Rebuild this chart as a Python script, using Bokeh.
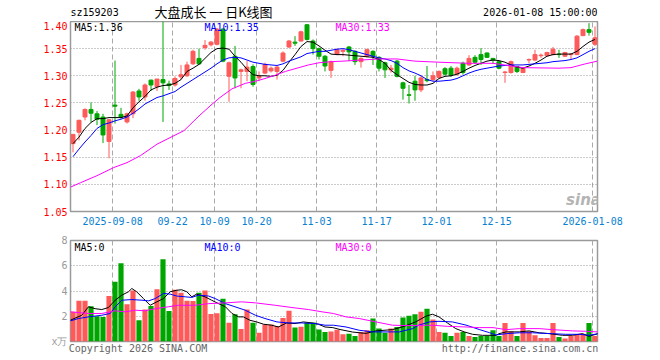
import numpy as np
from bokeh.plotting import figure
from bokeh.models import Range1d, FixedTicker, PrintfTickFormatter, Label
from bokeh.layouts import column
from bokeh.embed import file_html
from bokeh.resources import INLINE
from bokeh.core.properties import value

# ---------------- data ----------------
tick_idx = [7, 17, 24, 31, 41, 51, 61, 71, 87]
tick_labels = ["2025-09-08", "09-22", "10-09", "10-20", "11-03", "11-17", "12-01", "12-15", "2026-01-08"]

opens = [1.175,1.196,1.224,1.238,1.230,1.224,1.179,1.246,1.229,1.215,
         1.230,1.272,1.261,1.292,1.280,1.293,1.285,1.283,1.298,1.300,
         1.322,1.332,1.352,1.357,1.358,1.386,1.299,1.336,1.308,1.308,
         1.317,1.296,1.305,1.309,1.308,1.327,1.353,1.362,1.364,1.394,
         1.364,1.350,1.336,1.310,1.340,1.345,1.353,1.345,1.326,1.336,
         1.345,1.334,1.324,1.311,1.327,1.287,1.265,1.290,1.274,1.293,
         1.293,1.297,1.313,1.314,1.303,1.323,1.320,1.334,1.339,1.342,
         1.332,1.326,1.306,1.306,1.317,1.306,1.329,1.329,1.337,1.337,
         1.339,1.340,1.336,1.339,1.339,1.374,1.385,1.358]
closes = [1.192,1.218,1.238,1.231,1.220,1.191,1.219,1.244,1.224,1.230,
          1.270,1.261,1.283,1.283,1.294,1.287,1.282,1.295,1.302,1.320,
          1.345,1.322,1.356,1.362,1.386,1.327,1.324,1.296,1.311,1.316,
          1.284,1.299,1.321,1.314,1.316,1.342,1.364,1.360,1.381,1.367,
          1.350,1.336,1.318,1.326,1.348,1.347,1.344,1.326,1.332,1.348,
          1.336,1.314,1.311,1.314,1.299,1.277,1.264,1.274,1.296,1.291,
          1.300,1.308,1.303,1.301,1.314,1.306,1.332,1.325,1.330,1.334,
          1.329,1.314,1.307,1.326,1.308,1.314,1.330,1.339,1.338,1.343,
          1.349,1.339,1.343,1.340,1.373,1.385,1.380,1.370]
highs = [1.193,1.219,1.240,1.251,1.235,1.230,1.220,1.328,1.241,1.232,
         1.272,1.276,1.286,1.293,1.294,1.400,1.291,1.299,1.320,1.326,
         1.348,1.350,1.366,1.364,1.388,1.388,1.326,1.355,1.313,1.327,
         1.321,1.308,1.324,1.317,1.318,1.345,1.366,1.373,1.383,1.395,
         1.367,1.352,1.338,1.328,1.350,1.349,1.355,1.347,1.334,1.350,
         1.347,1.336,1.326,1.320,1.329,1.289,1.283,1.300,1.300,1.318,
         1.308,1.310,1.316,1.318,1.317,1.326,1.338,1.338,1.351,1.343,
         1.333,1.327,1.309,1.328,1.318,1.315,1.332,1.348,1.341,1.344,
         1.353,1.348,1.344,1.342,1.375,1.387,1.397,1.391]
lows = [1.159,1.181,1.218,1.215,1.209,1.176,1.148,1.212,1.221,1.212,
        1.222,1.254,1.254,1.272,1.272,1.215,1.274,1.280,1.293,1.298,
        1.320,1.320,1.348,1.354,1.356,1.325,1.252,1.277,1.277,1.290,
        1.280,1.290,1.303,1.306,1.293,1.325,1.351,1.355,1.363,1.365,
        1.339,1.330,1.308,1.296,1.338,1.336,1.327,1.320,1.315,1.334,
        1.320,1.308,1.296,1.306,1.297,1.256,1.249,1.254,1.270,1.288,
        1.290,1.295,1.300,1.298,1.300,1.302,1.318,1.322,1.320,1.333,
        1.322,1.312,1.287,1.304,1.305,1.305,1.323,1.327,1.333,1.336,
        1.338,1.333,1.335,1.329,1.338,1.373,1.374,1.355]
volumes = [2.35,3.22,3.22,2.80,2.00,1.95,3.60,4.74,6.20,2.96,
           4.03,1.69,2.53,2.82,4.13,6.51,2.42,4.10,3.86,3.22,
           3.20,3.86,4.03,2.17,2.24,3.38,1.48,2.16,1.00,2.54,
           1.48,0.70,1.34,1.34,1.22,1.87,2.43,1.10,1.16,1.48,
           1.50,0.95,0.76,0.80,0.94,0.57,0.62,0.44,0.76,0.89,
           1.82,1.02,0.69,1.02,1.15,1.90,2.03,2.16,2.35,2.59,
           1.74,0.76,0.69,0.44,0.69,0.76,0.44,0.36,0.44,0.44,
           0.89,0.44,1.47,0.81,0.44,1.47,0.81,0.49,0.28,0.28,
           1.47,0.36,0.23,0.44,0.57,0.62,1.47,0.44]

ma5 = [1.175,1.187,1.203,1.214,1.221,1.221,1.223,1.223,1.223,1.226,
       1.241,1.252,1.262,1.274,1.279,1.282,1.283,1.286,1.293,1.308,
       1.314,1.321,1.332,1.343,1.350,1.351,1.349,1.336,1.325,1.312,
       1.302,1.300,1.300,1.299,1.301,1.310,1.325,1.339,1.354,1.363,
       1.362,1.355,1.347,1.340,1.339,1.339,1.338,1.337,1.336,1.335,
       1.334,1.330,1.323,1.310,1.302,1.295,1.288,1.284,1.283,1.283,
       1.286,1.295,1.299,1.300,1.303,1.308,1.314,1.319,1.323,1.327,
       1.329,1.328,1.325,1.320,1.316,1.314,1.318,1.323,1.329,1.336,
       1.339,1.340,1.340,1.340,1.345,1.354,1.362,1.367]
ma10 = [1.151,1.165,1.178,1.190,1.203,1.210,1.213,1.217,1.220,1.224,
        1.231,1.239,1.248,1.254,1.260,1.263,1.267,1.271,1.279,1.286,
        1.293,1.300,1.307,1.314,1.322,1.329,1.333,1.334,1.333,1.329,
        1.325,1.323,1.321,1.320,1.319,1.322,1.327,1.331,1.335,1.341,
        1.343,1.345,1.345,1.347,1.349,1.350,1.348,1.345,1.342,1.339,
        1.336,1.333,1.331,1.328,1.323,1.315,1.309,1.305,1.300,1.293,
        1.290,1.290,1.291,1.292,1.295,1.300,1.305,1.309,1.312,1.314,
        1.316,1.318,1.319,1.320,1.320,1.320,1.321,1.322,1.323,1.324,
        1.326,1.327,1.328,1.330,1.333,1.339,1.345,1.350]
ma30_x = [-0.4,1.25,4,6.8,9,11.25,14,18.5,21,23,24.5,26.5,28.7,30.4,32,33.7,35.4,37,
          39.25,41,43,45,48,51,54,57,61,66,70,72.5,75,81,83,85.4,87.4]
ma30_y = [1.095,1.103,1.116,1.131,1.140,1.153,1.174,1.199,1.226,1.246,1.260,1.276,1.286,1.290,
          1.295,1.301,1.308,1.313,1.320,1.324,1.326,1.327,1.329,1.331,1.331,1.327,1.325,1.323,
          1.323,1.319,1.315,1.314,1.315,1.322,1.327]

vma5_x = [-0.47,1.47,2.58,3.69,4.8,5.9,7.03,8.14,9.25,9.8,10.6,11.75,12.86,13.97,15.08,16.2,
          17.3,18.1,18.97,19.8,20.6,22.0,23.1,24.25,25.4,26.5,27.6,28.4,29.5,30.6,31.75,33.1,
          34.25,35.6,37.0,38.4,39.8,40.9,42.0,43.3,44.5,46.6,48.8,50.5,53.25,55.2,57.1,58.8,
          59.9,61.0,62.4,63.8,65.2,66.6,68.25,70.5,71.0,72.2,74.4,76.0,77.7,79.4,81.6,83.25,
          84.9,86.0,87.5]
vma5_y = [1.68,2.08,2.75,2.60,2.53,2.69,3.27,3.67,3.94,4.20,3.94,3.40,2.87,3.14,3.40,3.94,
          4.06,4.10,3.94,3.54,3.75,3.54,3.27,3.00,2.75,2.22,1.95,1.95,1.68,1.55,1.37,1.29,
          1.15,1.47,1.42,1.55,1.47,1.37,1.15,1.10,0.95,0.75,0.64,0.84,0.94,1.20,1.55,2.00,
          2.16,1.95,1.47,1.02,0.76,0.57,0.49,0.49,0.62,0.76,0.76,0.84,0.69,0.62,0.49,0.49,
          0.62,0.41,0.62]
vma10_x = [-0.47,0.92,2.58,4.8,6.2,7.03,8.14,9.8,11.5,12.6,13.7,15.1,16.2,17.3,18.7,19.8,
           20.9,22.6,23.7,25.4,27.0,28.7,30.4,32.0,34.0,35.9,38.1,40.4,42.0,43.4,45.5,47.7,
           49.9,54.4,56.6,57.6,59.4,61.0,63.25,65.5,67.7,69.4,70.5,72.2,74.4,76.6,79.9,82.1,
           84.4,86.0,87.5]
vma10_y = [1.63,1.82,1.95,2.08,2.22,2.75,3.27,3.32,3.27,3.22,3.40,3.81,3.75,3.60,3.54,3.49,
           3.67,3.60,3.40,3.00,2.75,2.48,2.08,1.82,1.55,1.47,1.47,1.42,1.29,1.29,1.15,0.89,
           0.76,0.76,1.02,1.29,1.55,1.60,1.55,1.30,0.95,0.70,0.52,0.62,0.69,0.69,0.62,0.57,
           0.57,0.49,0.62]
vma30_x = [-0.47,2.58,4.8,7.03,8.7,10.4,12.0,13.7,15.9,17.6,20.4,22.6,25.4,28.1,30.4,33.7,
           36.5,39.25,41.5,43.4,45.5,47.7,50.5,53.25,55.5,59.9,62.4,65.5,67.7,70.0,72.2,74.4,
           77.7,79.9,83.25,85.4,87.5]
vma30_y = [2.35,2.22,2.22,2.43,2.35,2.48,2.43,2.60,2.75,2.87,2.87,3.00,3.06,3.14,3.06,2.87,
           2.69,2.53,2.35,2.22,1.95,1.82,1.55,1.29,1.26,1.29,1.20,1.15,1.10,1.10,0.94,1.02,
           1.02,0.94,0.84,0.81,0.76]

# ---------------- styling / layout ----------------
RED = "#ff5a5a"
GREEN = "#00a600"
MONO = "DejaVu Sans Mono"
SHIFT = 0.4            # candles sit a little right of the date grid lines
LEFT, RIGHT = 70, 63   # frame borders in px
X0 = -0.4167 + SHIFT
X1 = 87.4167 + SHIFT

n = len(opens)
xs = np.arange(n) + SHIFT
o = np.array(opens); c = np.array(closes)
cols = [RED if cc >= oo else GREEN for oo, cc in zip(o, c)]
body_top = np.maximum(o, c)
body_bot = np.minimum(o, c)

def xd(px):
    return X0 + (px - LEFT) / 6.0

# price panel: frame 21..211 px
def yd1(py):
    return 1.40 - (py - 21) / 190.0 * 0.35

# volume panel: frame 240..341 px
def yd2(py):
    return 8.0 - (py - 240) / 101.0 * 8.0

common = dict(output_backend="svg", toolbar_location=None, min_border_left=LEFT,
              min_border_right=RIGHT, background_fill_color="white",
              border_fill_color="white", title=None)

xr = Range1d(X0, X1)

# ---------------- header strip ----------------
p0 = figure(width=660, height=21, x_range=xr, y_range=Range1d(21, 0),
            x_axis_location=None, y_axis_location=None,
            min_border_top=0, min_border_bottom=0, **common)
p0.grid.visible = False
p0.outline_line_color = None
p0.text(x=[xd(70), xd(597)], y=[12, 12], text=["sz159203", "2026-01-08 15:00:00"],
        text_align=["left", "right"], text_baseline="middle", text_font=value(MONO),
        text_font_size="10px", text_color="black")
p0.text(x=[xd(213)], y=[11], text=["大盘成长 一 日K线图"], text_align="center",
        text_baseline="middle", text_font=value("Noto Sans CJK SC"),
        text_font_size="13px", text_color="black")

# ---------------- price panel ----------------
p1 = figure(width=660, height=211, x_range=xr, y_range=Range1d(1.05, 1.40),
            min_border_top=0, min_border_bottom=21, **common)
p1.outline_line_color = "#9a9a9a"
p1.outline_line_width = 1.5

p1.yaxis.ticker = FixedTicker(ticks=[1.05, 1.10, 1.15, 1.20, 1.25, 1.30, 1.35, 1.40])
p1.yaxis.formatter = PrintfTickFormatter(format="%.2f")
p1.xaxis.ticker = FixedTicker(ticks=tick_idx)
p1.xaxis.major_label_overrides = {t: l for t, l in zip(tick_idx, tick_labels)}
for ax in (p1.xaxis, p1.yaxis):
    ax.axis_line_color = None
    ax.major_tick_line_color = None
    ax.minor_tick_line_color = None
    ax.major_tick_out = 0
    ax.major_tick_in = 0
    ax.major_label_text_font = MONO
    ax.major_label_text_font_size = "10px"
p1.yaxis.major_label_text_color = "#ff0000"
p1.yaxis.major_label_standoff = 3
p1.xaxis.major_label_text_color = "#0a7fd0"
p1.xaxis.major_label_standoff = 5

p1.ygrid.grid_line_color = "#999999"
p1.ygrid.grid_line_dash = "1 2"
p1.xgrid.grid_line_color = "#aaaaaa"
p1.xgrid.grid_line_dash = "5 3"

p1.segment(x0=xs, y0=lows, x1=xs, y1=highs, line_color=cols, line_width=1)
p1.vbar(x=xs, width=0.66, top=body_top, bottom=body_bot, fill_color=cols,
        line_color=cols, line_width=1)
p1.line(xs, ma5, line_color="black", line_width=1)
p1.line(xs, ma10, line_color="#0000ff", line_width=1)
p1.line(np.array(ma30_x) + SHIFT, ma30_y, line_color="#ff00ff", line_width=1)

def lab(p, px, y, text, color="black", align="left", size="10px", font=MONO, style="normal"):
    p.add_layout(Label(x=xd(px), y=y, text=text, text_color=color, text_align=align,
                       text_baseline="middle", text_font_size=size, text_font=font,
                       text_font_style=style))

lab(p1, 74, yd1(27), "MA5:1.36")
lab(p1, 204, yd1(27), "MA10:1.35", color="#0000ff")
lab(p1, 335, yd1(27), "MA30:1.33", color="#ff00ff")
lab(p1, 583, yd1(199), "sina", color="#b4b4b4", align="center", size="15px",
    font="DejaVu Sans", style="bold italic")

# ---------------- volume panel ----------------
foot_px = [137.5, 519.5]
foot_x = [round(xd(v), 3) for v in foot_px]
foot_text = ["Copyright 2026 SINA.COM", "http://finance.sina.com.cn"]

p2 = figure(width=660, height=128, x_range=xr, y_range=Range1d(0, 8),
            min_border_top=8, min_border_bottom=19, **common)
p2.outline_line_color = "#9a9a9a"
p2.outline_line_width = 1.5
p2.yaxis.ticker = FixedTicker(ticks=[0, 2, 4, 6, 8])
p2.yaxis.major_label_overrides = {0: "x万"}
p2.xaxis.ticker = FixedTicker(ticks=foot_x)
p2.xaxis.major_label_overrides = {k: t for k, t in zip(foot_x, foot_text)}
for ax in (p2.xaxis, p2.yaxis):
    ax.axis_line_color = None
    ax.major_tick_line_color = None
    ax.minor_tick_line_color = None
    ax.major_tick_out = 0
    ax.major_tick_in = 0
    ax.major_label_text_font = MONO
    ax.major_label_text_font_size = "10px"
p2.yaxis.major_label_text_color = "#999999"
p2.yaxis.major_label_standoff = 3
p2.xaxis.major_label_text_color = "#666666"
p2.xaxis.major_label_standoff = 1
p2.ygrid.grid_line_color = "#999999"
p2.ygrid.grid_line_dash = "1 2"
p2.xgrid.ticker = FixedTicker(ticks=tick_idx)
p2.xgrid.grid_line_color = "#aaaaaa"
p2.xgrid.grid_line_dash = "5 3"

p2.vbar(x=xs, width=0.86, top=volumes, bottom=0, fill_color=cols, line_color=None)
p2.line(np.array(vma5_x) + SHIFT, vma5_y, line_color="black", line_width=1)
p2.line(np.array(vma10_x) + SHIFT, vma10_y, line_color="#0000ff", line_width=1)
p2.line(np.array(vma30_x) + SHIFT, vma30_y, line_color="#ff00ff", line_width=1)

lab(p2, 74, yd2(246.5), "MA5:0")
lab(p2, 204, yd2(246.5), "MA10:0", color="#0000ff")
lab(p2, 335, yd2(246.5), "MA30:0", color="#ff00ff")

layout = column(p0, p1, p2, spacing=0)
open("out.html", "w").write(file_html(layout, INLINE))
